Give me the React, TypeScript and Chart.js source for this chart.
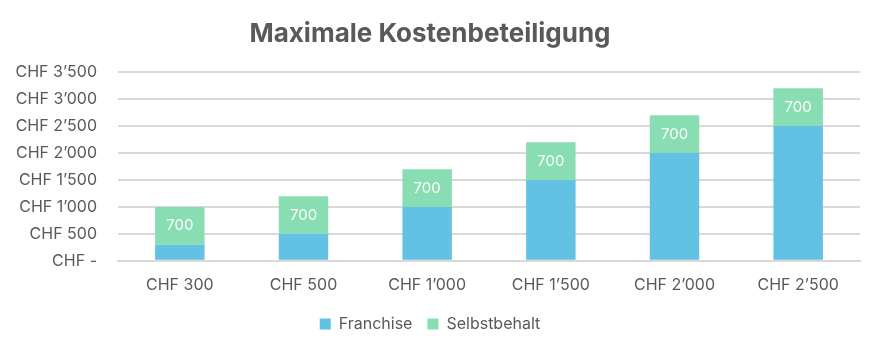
import React, { useEffect, useRef } from "react";
import { Chart, registerables } from "chart.js";

Chart.register(...registerables);

const categories = ["CHF 300", "CHF 500", "CHF 1’000", "CHF 1’500", "CHF 2’000", "CHF 2’500"];
const franchise = [300, 500, 1000, 1500, 2000, 2500];
const selbstbehalt = [700, 700, 700, 700, 700, 700];
const yTickLabels: Record<number, string> = {
  0: "CHF -",
  500: "CHF 500",
  1000: "CHF 1’000",
  1500: "CHF 1’500",
  2000: "CHF 2’000",
  2500: "CHF 2’500",
  3000: "CHF 3’000",
  3500: "CHF 3’500",
};

const FONT = "Inter, 'Open Sans', sans-serif";
const GRAY = "#595959";

const labelPlugin = {
  id: "segLabels",
  afterDatasetsDraw(chart: any) {
    const ctx = chart.ctx;
    const meta = chart.getDatasetMeta(1);
    ctx.save();
    ctx.fillStyle = "#ffffff";
    ctx.font = `15px ${FONT}`;
    ctx.textAlign = "center";
    ctx.textBaseline = "middle";
    meta.data.forEach((bar: any, i: number) => {
      const y = (bar.y + bar.base) / 2;
      ctx.fillText(String(selbstbehalt[i]), bar.x, y);
    });
    ctx.restore();
  },
};

export default function App() {
  const ref = useRef<HTMLCanvasElement>(null);
  useEffect(() => {
    document.body.style.margin = "0";
    const chart = new Chart(ref.current!, {
      type: "bar",
      data: {
        labels: categories,
        datasets: [
          { label: "Franchise", data: franchise, backgroundColor: "#63C1E3", categoryPercentage: 1, barPercentage: 0.4 },
          { label: "Selbstbehalt", data: selbstbehalt, backgroundColor: "#88DDB2", categoryPercentage: 1, barPercentage: 0.4 },
        ],
      },
      options: {
        animation: false,
        responsive: false,
        maintainAspectRatio: false,
        layout: { padding: { left: 0, right: 21, top: 0, bottom: 10 } },
        plugins: {
          title: {
            display: true,
            text: "Maximale Kostenbeteiligung",
            color: GRAY,
            font: { family: FONT, size: 26, weight: "bold" },
            padding: { top: 19, bottom: 22 },
          },
          legend: {
            position: "bottom",
            labels: {
              color: GRAY,
              font: { family: FONT, size: 16 },
              boxWidth: 11,
              boxHeight: 11,
              padding: 15,
            },
          },
          tooltip: { enabled: false },
        },
        scales: {
          x: {
            stacked: true,
            grid: { display: false },
            border: { display: true, color: "#d9d9d9", width: 2 },
            ticks: { color: GRAY, font: { family: FONT, size: 16 }, padding: 6.5 },
          },
          y: {
            stacked: true,
            min: 0,
            max: 3500,
            border: { display: false },
            grid: { color: "#d9d9d9", lineWidth: 2, drawTicks: false },
            afterFit: (axis: any) => {
              axis.width = 118;
            },
            ticks: {
              stepSize: 500,
              color: GRAY,
              font: { family: FONT, size: 16 },
              padding: 21,
              callback: (v: any) => yTickLabels[Number(v)] ?? "",
            },
          },
        },
      },
      plugins: [labelPlugin],
    });
    return () => chart.destroy();
  }, []);
  return (
    <div style={{ width: 881, height: 352 }}>
      <canvas ref={ref} width={881} height={352} style={{ display: "block" }} />
    </div>
  );
}
